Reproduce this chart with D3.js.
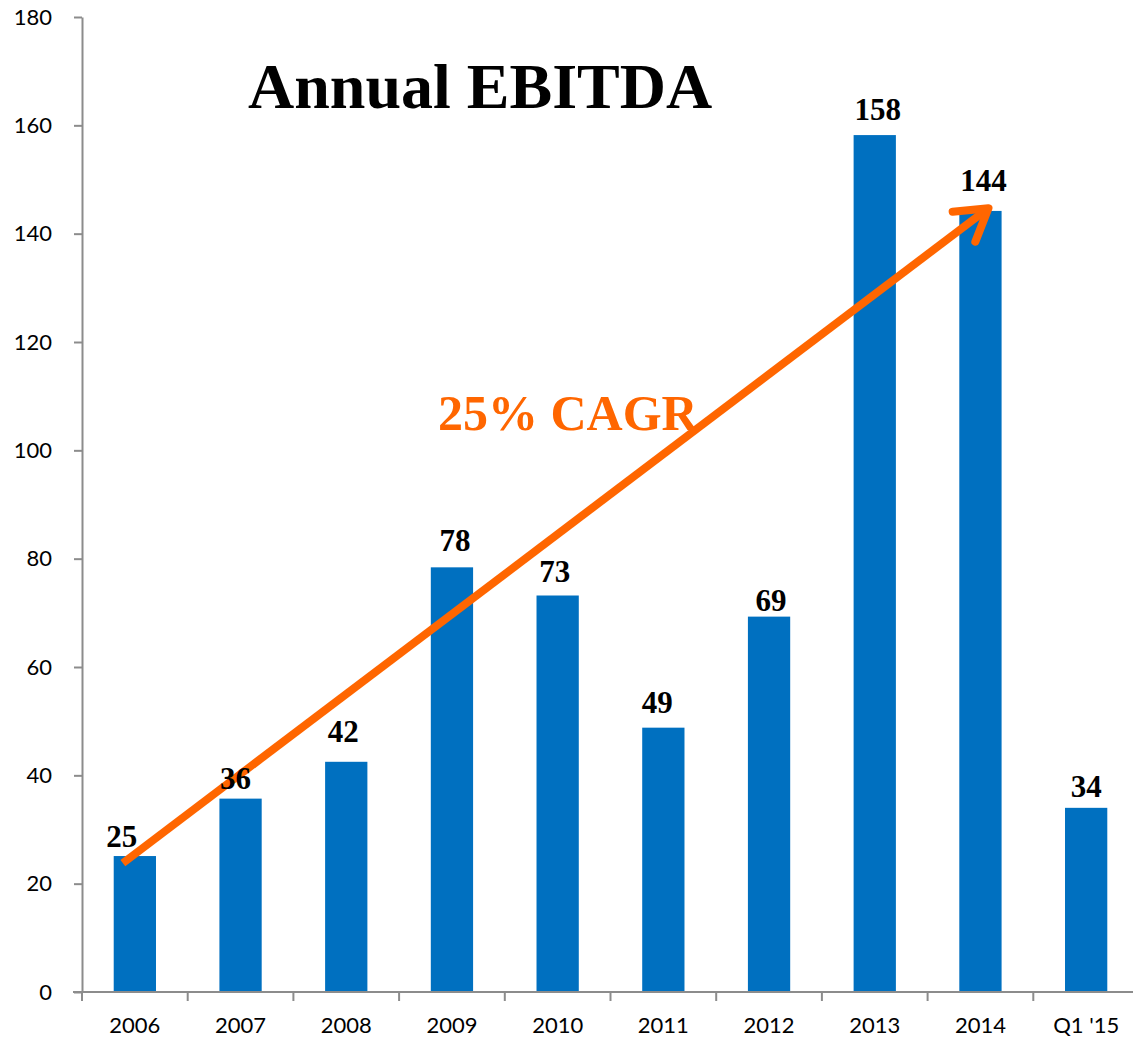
<!DOCTYPE html>
<html>
<head>
<meta charset="utf-8">
<script src="https://cdn.jsdelivr.net/npm/d3@7"></script>
<style>
  body { margin: 0; background: #fff; }
  .axis path, .axis line { stroke: #8c8c8c; stroke-width: 2; }
  .axis text { font-family: Lato, "Open Sans", sans-serif; font-size: 22px; fill: #000; }
</style>
</head>
<body>
<div id="canvas"></div>
<script>
// chart values
var years  = ['2006', '2007', '2008', '2009', '2010', '2011', '2012', '2013', '2014', "Q1 '15"];
var ebitda = [25.1, 35.7, 42.5, 78.4, 73.2, 48.8, 69.3, 158.2, 144.2, 34.0];
var labels = ['25', '36', '42', '78', '73', '49', '69', '158', '144', '34'];
var yTicks = [0, 20, 40, 60, 80, 100, 120, 140, 160, 180];
// CAGR arrow, from 2006 to 2014 (in EBITDA units)
var cagrFrom = {year: '2006', value: 23.8},
    cagrTo   = {year: '2014', value: 144.7};

var W = 1133, H = 1037;
var m = {t:17, l:82};
var h = 975, w = 1057;

// hand placement of the value labels (dx, gap above bar), as in the original slide
var nudge = [[-13,9],[-5,10],[-3,20],[3,16],[-3,14],[-6,15],[2,6],[3,15],[3,20],[0,11]];

var svg = d3.select('#canvas')
    .append('svg')
    .attr('width', W)
    .attr('height', H);

var plot = svg.append('g')
    .attr('transform', 'translate(' + m.l + ',' + m.t + ')');

var scaleX = d3.scaleBand()
    .domain(years)
    .range([0, w])
    .paddingInner(0.6)
    .paddingOuter(0.3);

var scaleY = d3.scaleLinear()
    .domain([0, 180])
    .range([h, 0]);

var step = scaleX.step();
var cx = function(y){ return scaleX(y) + scaleX.bandwidth()/2; };

// bars
plot.selectAll('rect.bar')
    .data(years)
    .enter()
    .append('rect')
    .attr('class', 'bar')
    .attr('x', function(d){ return scaleX(d); })
    .attr('width', scaleX.bandwidth())
    .attr('y', function(d, i){ return scaleY(ebitda[i]); })
    .attr('height', function(d, i){ return h - scaleY(ebitda[i]); })
    .style('fill', '#0070c0');

// y axis
var axisY = d3.axisLeft(scaleY)
    .tickValues(yTicks)
    .tickSize(8)
    .tickPadding(22)
    .tickSizeOuter(0);
plot.append('g').attr('class', 'axis').call(axisY);

// x axis: labels centred, ticks on band boundaries
var axisX = d3.axisBottom(scaleX).tickSize(0).tickPadding(25).tickSizeOuter(0);
var xg = plot.append('g')
    .attr('class', 'axis')
    .attr('transform', 'translate(0,' + h + ')')
    .call(axisX);
xg.select('.domain').attr('d', 'M-9,0H' + (w + 10));
xg.selectAll('line.bound')
    .data(years)
    .enter()
    .append('line')
    .attr('class', 'bound')
    .attr('x1', function(d){ return scaleX(d) - step*0.3; })
    .attr('x2', function(d){ return scaleX(d) - step*0.3; })
    .attr('y1', 0)
    .attr('y2', 9);

// CAGR arrow
var x1 = cx(cagrFrom.year) - 12, y1 = scaleY(cagrFrom.value),
    x2 = cx(cagrTo.year) + 8,    y2 = scaleY(cagrTo.value);
var ang = Math.atan2(y2 - y1, x2 - x1), len = 36, spread = 0.55;
var orange = '#ff6600';
plot.append('line')
    .attr('x1', x1).attr('y1', y1)
    .attr('x2', x2 - 4*Math.cos(ang)).attr('y2', y2 - 4*Math.sin(ang))
    .style('stroke', orange)
    .style('stroke-width', 8);
plot.append('path')
    .attr('d', 'M' + (x2 - len*Math.cos(ang - spread)) + ',' + (y2 - len*Math.sin(ang - spread))
        + 'L' + x2 + ',' + y2
        + 'L' + (x2 - len*Math.cos(ang + spread)) + ',' + (y2 - len*Math.sin(ang + spread)))
    .style('fill', 'none')
    .style('stroke', orange)
    .style('stroke-width', 8)
    .style('stroke-linecap', 'round')
    .style('stroke-linejoin', 'round');

// value labels (on top of the arrow)
plot.selectAll('text.val')
    .data(years)
    .enter()
    .append('text')
    .attr('class', 'val')
    .attr('x', function(d, i){ return cx(d) + nudge[i][0]; })
    .attr('y', function(d, i){ return scaleY(ebitda[i]) - nudge[i][1]; })
    .attr('text-anchor', 'middle')
    .style('font-family', '"Liberation Serif", "Times New Roman", serif')
    .style('font-weight', 'bold')
    .style('font-size', '31px')
    .text(function(d, i){ return labels[i]; });

// texts
svg.append('text')
    .attr('x', 248)
    .attr('y', 108)
    .style('font-family', '"Liberation Serif", "Times New Roman", serif')
    .style('font-weight', 'bold')
    .style('font-size', '64px')
    .text('Annual EBITDA');

svg.append('text')
    .attr('x', 438)
    .attr('y', 430)
    .style('font-family', '"Liberation Serif", "Times New Roman", serif')
    .style('font-weight', 'bold')
    .style('font-size', '50px')
    .style('fill', orange)
    .text('25% CAGR');
</script>
</body>
</html>
